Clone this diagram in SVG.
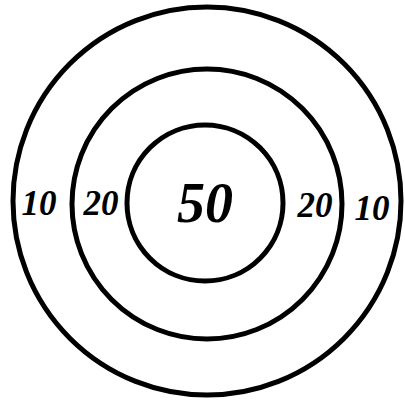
<svg xmlns="http://www.w3.org/2000/svg" width="405" height="404" viewBox="0 0 405 404">
<style>
.ring{fill:none;stroke:#000;stroke-width:5}
.lbl{font-family:"Liberation Serif","DejaVu Serif",serif;font-style:italic;font-weight:bold;fill:#000;text-anchor:middle}
.s{font-size:35px}
.b{font-size:56px}
</style>
<rect width="405" height="404" fill="#fff"/>
<g id="outer">
<circle class="ring" cx="207" cy="201" r="194"/>
<text class="lbl s" x="39" y="215">10</text>
<text class="lbl s" x="372" y="220">10</text>
</g>
<g id="middle">
<circle class="ring" cx="207" cy="204" r="135"/>
<text class="lbl s" x="101" y="215">20</text>
<text class="lbl s" x="315" y="217">20</text>
</g>
<g id="inner">
<circle class="ring" cx="205" cy="203" r="78"/>
<text class="lbl b" x="205" y="222">50</text>
</g>
</svg>
